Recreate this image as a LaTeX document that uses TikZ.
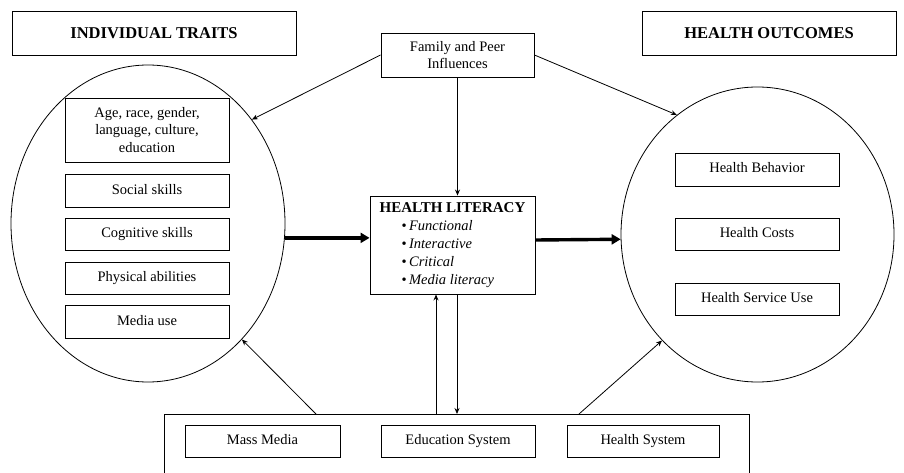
\documentclass[tikz,border=0pt]{standalone}
\usepackage{fontspec}
\setmainfont{Liberation Serif}
\usetikzlibrary{arrows.meta,shapes.geometric,calc}
\begin{document}
\begin{tikzpicture}[x=1pt,y=-1pt,
  box/.style={draw, line width=0.9pt, inner sep=0pt, align=center,
    font=\fontsize{14.5}{17.5}\selectfont},
  onebox/.style={box, text height=10pt, text depth=3pt},
  titlebox/.style={box, font=\fontsize{16.5}{18}\selectfont\bfseries},
  circ/.style={draw, ellipse, line width=0.8pt, inner sep=0pt},
  thin/.style={line width=0.8pt, -{Stealth[length=6pt,width=5pt]}},
  thick/.style={line width=3.4pt, -{Triangle[length=9pt,width=10pt]}}]
\useasboundingbox (0,0) rectangle (904,473);
\clip (0,0) rectangle (904,473);
% circles
\node[circ, minimum width=274pt, minimum height=317pt] (leftE) at (148,223.5) {};
\node[circ, minimum width=273pt, minimum height=295pt] (rightE) at (757.5,234.5) {};
% titles
\node[titlebox, minimum width=284pt, minimum height=44pt] (it) at (154,33) {INDIVIDUAL TRAITS};
\node[titlebox, minimum width=254pt, minimum height=44pt] (ho) at (769,33) {HEALTH OUTCOMES};
\node[box, minimum width=153pt, minimum height=44pt] (fam) at (457.5,55) {Family and Peer\\Influences};
% left boxes
\node[box, minimum width=164pt, minimum height=64pt] (age) at (147,130) {Age, race, gender,\\language, culture,\\education};
\node[onebox, minimum width=164pt, minimum height=33pt] (soc) at (147,190.5) {Social skills};
\node[onebox, minimum width=164pt, minimum height=32pt] (cog) at (147,234) {Cognitive skills};
\node[onebox, minimum width=164pt, minimum height=32pt] (phy) at (147,278) {Physical abilities};
\node[onebox, minimum width=164pt, minimum height=33pt] (med) at (147,321.5) {Media use};
% right boxes
\node[onebox, minimum width=164pt, minimum height=33pt] (hb) at (757,169.5) {Health Behavior};
\node[onebox, minimum width=164pt, minimum height=32pt] (hc) at (757,234) {Health Costs};
\node[onebox, minimum width=164pt, minimum height=32pt] (hsu) at (757,299) {Health Service Use};
% health literacy
\node[box, minimum width=165pt, minimum height=98pt, align=left,
      font=\fontsize{14.5}{18}\selectfont] (hl) at (452.5,245)
  {\textbf{\fontsize{15}{17}\selectfont HEALTH LITERACY}\\
   \hspace*{22pt}\textbullet\,\textit{Functional}\\
   \hspace*{22pt}\textbullet\,\textit{Interactive}\\
   \hspace*{22pt}\textbullet\,\textit{Critical}\\
   \hspace*{22pt}\textbullet\,\textit{Media literacy}};
% bottom system box
\node[draw, line width=0.9pt, inner sep=0pt, minimum width=585pt, minimum height=80pt, anchor=north west] (sys) at (164,414) {};
\node[onebox, minimum width=155pt, minimum height=32pt] (mm) at (262.5,441) {Mass Media};
\node[onebox, minimum width=154pt, minimum height=32pt] (es) at (458,441) {Education System};
\node[onebox, minimum width=152pt, minimum height=32pt] (hs) at (643,441) {Health System};
% connectors
\draw[thin] (fam.west) -- (leftE.45);
\draw[thin] (fam.east) -- (rightE.124);
\draw[thin] (fam.south) -- (fam.south |- hl.north);
\draw[thick] (leftE.-6) -- (leftE.-6 -| hl.west);
\draw[thick] ($(hl.east)+(0,-5)$) -- (rightE.182);
\coordinate (upfoot) at (436,414);
\coordinate (downtop) at (457,294);
\draw[thin] (upfoot) -- (upfoot |- hl.south);
\draw[thin] (downtop) -- (downtop |- sys.north);
\coordinate (mmfoot) at (316,414);
\coordinate (hsfoot) at (579,414);
\draw[thin] (mmfoot) -- (leftE.-51);
\draw[thin] (hsfoot) -- (rightE.228);
\end{tikzpicture}
\end{document}
